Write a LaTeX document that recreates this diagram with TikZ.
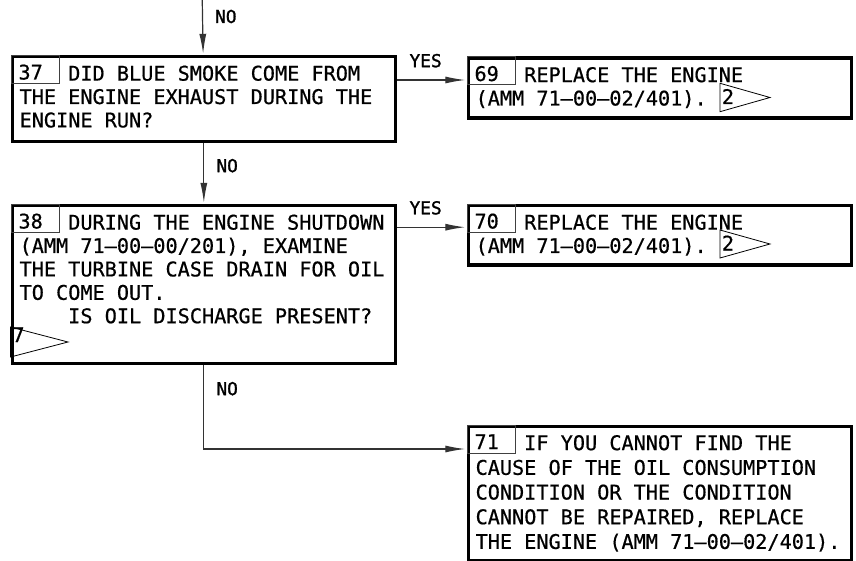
\documentclass[tikz,border=0pt]{standalone}
\usepackage{fontspec}
\usetikzlibrary{arrows.meta}
\newfontfamily\tsmono{DejaVu Sans Mono}[FakeBold=0.6]
\newfontfamily\tslabel{DejaVu Sans Mono}[FakeBold=1.4]

\tikzset{
  stepbox/.style={draw, line width=1.6pt, anchor=north west, inner xsep=3.75pt,
    inner ysep=0pt, text width=184.25pt, align=flush left, text height=12pt,
    text depth=#1, font=\tsmono\fontsize{10.1}{11.7}\selectfont},
  numbox/.style={draw=black!75, line width=0.5pt, anchor=north west, inner xsep=3.75pt,
    inner ysep=0pt, text width=16.5pt, align=flush left, text height=12pt, text depth=2pt,
    font=\tsmono\fontsize{10.1}{11.7}\selectfont},
  flow/.style={draw=black!80, line width=0.6pt, -{Latex[length=10pt,width=3.5pt]},
    shorten >=0.6pt},
  answer/.style={inner sep=0pt, font=\tslabel\fontsize{8.9}{10}\selectfont},
  flagline/.style={draw, line width=0.4pt},
  flagnum/.style={inner sep=0pt, anchor=base west,
    font=\tsmono\fontsize{10.1}{11.7}\selectfont},
}

% name, left, top, bottom, tip, baseline, number
\newcommand{\flagmark}[7]{%
  \draw[flagline] (#2,#3) -- (#2,#4) -- (#5,{(#3+#4)/2}) -- cycle;
  \node[flagnum] (#1) at (#2+1.5,#6) {#7};}

\begin{document}
\begin{tikzpicture}[x=0.5pt, y=-0.5pt]
  \useasboundingbox (0,0) rectangle (856,561);

  \node[stepbox=30.5pt] (b37) at (10.5,55)
    {\hphantom{0000}DID BLUE SMOKE COME FROM\\THE ENGINE EXHAUST DURING THE\\ENGINE RUN?};
  \node[stepbox=67pt] (b38) at (10.5,204)
    {\hphantom{0000}DURING THE ENGINE SHUTDOWN\\(AMM 71–00–00/201), EXAMINE\\THE TURBINE CASE DRAIN FOR OIL\\TO COME OUT.\\\hphantom{0000}IS OIL DISCHARGE PRESENT?};
  \node[stepbox=18pt] (b69) at (466.5,56.5)
    {\hphantom{0000}REPLACE THE ENGINE\\(AMM 71–00–02/401).};
  \node[stepbox=17.75pt] (b70) at (466.5,204)
    {\hphantom{0000}REPLACE THE ENGINE\\(AMM 71–00–02/401).};
  \node[stepbox=55pt, font=\tsmono\fontsize{10.1}{12.35}\selectfont] (b71) at (466.5,424.5)
    {\hphantom{0000}IF YOU CANNOT FIND THE\\CAUSE OF THE OIL CONSUMPTION\\CONDITION OR THE CONDITION\\CANNOT BE REPAIRED, REPLACE\\THE ENGINE (AMM 71–00–02/401).};

  \node[numbox] (n37) at (b37.north west) {37};
  \node[numbox] (n38) at (b38.north west) {38};
  \node[numbox] (n69) at (b69.north west) {69};
  \node[numbox] (n70) at (b70.north west) {70};
  \node[numbox] (n71) at (b71.north west) {71};

  \flagmark{f69}{720}{83.3}{111.7}{770}{104}{2}
  \flagmark{f70}{720}{230}{258}{770}{250.5}{2}
  \flagmark{f38}{10.5}{327}{357}{68}{342}{7}

  \coordinate (in) at (202.25,0);
  \coordinate (y37) at ([yshift=-12.5pt]b37.north east);
  \coordinate (y38) at ([yshift=-11.6pt]b38.north east);
  \coordinate (w71) at ([yshift=-12.25pt]b71.north west);

  \draw[flow] (in) -- node[answer, right=6pt, pos=0.3] (no37) {NO} (b37);
  \draw[flow] (b37) -- node[answer, right=6pt, pos=0.37] (no38) {NO} (b38);
  \draw[flow] (y37) -- node[answer, above=6pt, pos=0.41] (yes69) {YES} (y37 -| b69.west);
  \draw[flow] (y38) -- node[answer, above=6pt, pos=0.41] (yes70) {YES} (y38 -| b70.west);
  \draw[flow] (b38) |- node[answer, right=6pt, pos=0.14] (no71) {NO} (w71);
\end{tikzpicture}
\end{document}
